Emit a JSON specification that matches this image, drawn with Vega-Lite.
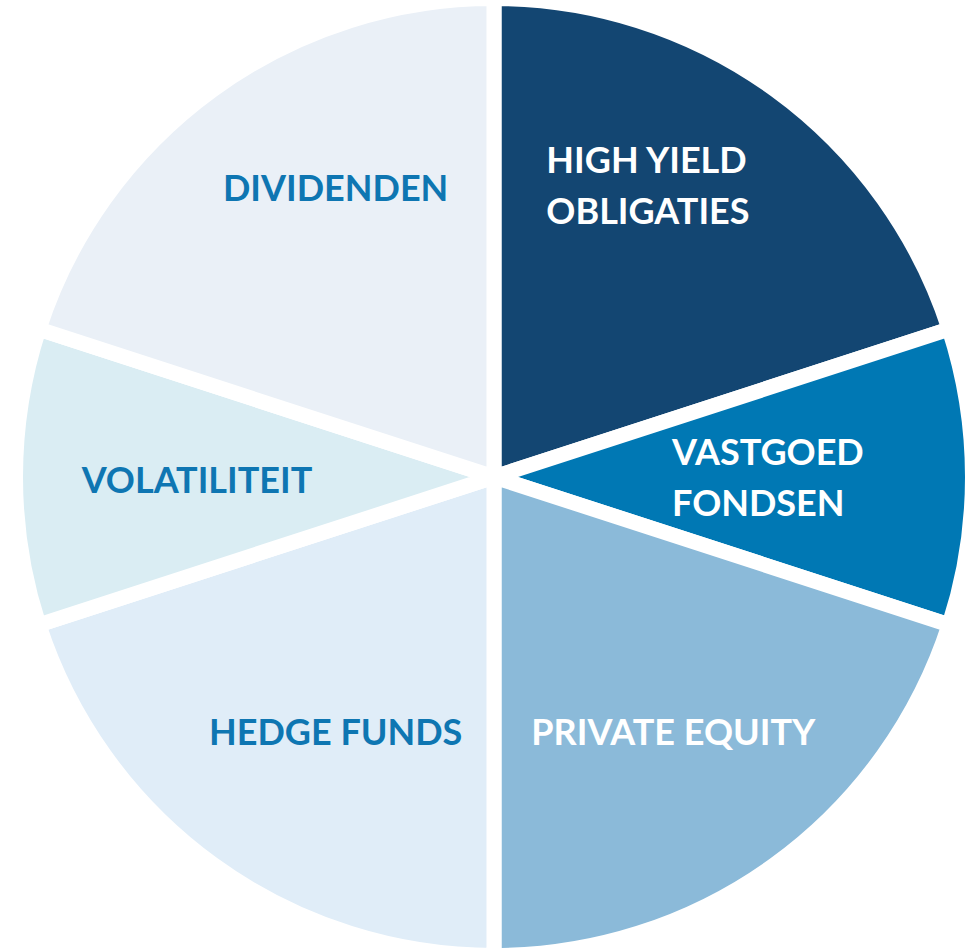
{
  "$schema": "https://vega.github.io/schema/vega-lite/v6.json",
  "width": 950,
  "height": 948,
  "autosize": {"type": "none"},
  "padding": {"left": 19, "top": 3, "right": 0, "bottom": 0},
  "background": "white",
  "config": {"view": {"stroke": null}},
  "data": {
    "values": [
      {"idx": 1, "cat": "HIGH YIELD\nOBLIGATIES", "value": 20},
      {"idx": 2, "cat": "VASTGOED\nFONDSEN", "value": 10},
      {"idx": 3, "cat": "PRIVATE EQUITY", "value": 20},
      {"idx": 4, "cat": "HEDGE FUNDS", "value": 20},
      {"idx": 5, "cat": "VOLATILITEIT", "value": 10},
      {"idx": 6, "cat": "DIVIDENDEN", "value": 20}
    ]
  },
  "encoding": {
    "theta": {"field": "value", "type": "quantitative", "stack": true},
    "order": {"field": "idx", "type": "quantitative"}
  },
  "layer": [
    {
      "mark": {"type": "arc", "outerRadius": 478.5, "stroke": "white", "strokeWidth": 15},
      "encoding": {
        "color": {
          "field": "cat",
          "type": "nominal",
          "legend": null,
          "scale": {
            "domain": ["HIGH YIELD\nOBLIGATIES", "VASTGOED\nFONDSEN", "PRIVATE EQUITY", "HEDGE FUNDS", "VOLATILITEIT", "DIVIDENDEN"],
            "range": ["#134672", "#0078B4", "#8BBAD9", "#E0EDF8", "#DAEDF3", "#EAF0F7"]
          }
        }
      }
    },
    {
      "mark": {"type": "text", "radius": 300, "dx": -124, "dy": -72, "align": "left", "baseline": "middle", "font": "Lato", "fontWeight": "bold", "fontSize": 36, "lineHeight": 51, "lineBreak": "\n", "color": "white"},
      "encoding": {
        "detail": {"field": "cat", "type": "nominal"},
        "text": {"condition": {"test": "datum.idx === 1", "field": "cat"}, "value": ""}
      }
    },
    {
      "mark": {"type": "text", "radius": 300, "dx": -122, "dy": -23, "align": "left", "baseline": "middle", "font": "Lato", "fontWeight": "bold", "fontSize": 36, "lineHeight": 51, "lineBreak": "\n", "color": "white"},
      "encoding": {
        "detail": {"field": "cat", "type": "nominal"},
        "text": {"condition": {"test": "datum.idx === 2", "field": "cat"}, "value": ""}
      }
    },
    {
      "mark": {"type": "text", "radius": 300, "dx": 3, "dy": 14, "align": "center", "baseline": "middle", "font": "Lato", "fontWeight": "bold", "fontSize": 36, "lineHeight": 51, "lineBreak": "\n", "color": "white"},
      "encoding": {
        "detail": {"field": "cat", "type": "nominal"},
        "text": {"condition": {"test": "datum.idx === 3", "field": "cat"}, "value": ""}
      }
    },
    {
      "mark": {"type": "text", "radius": 300, "dx": 18, "dy": 14, "align": "center", "baseline": "middle", "font": "Lato", "fontWeight": "bold", "fontSize": 36, "lineHeight": 51, "lineBreak": "\n", "color": "#0E76B2"},
      "encoding": {
        "detail": {"field": "cat", "type": "nominal"},
        "text": {"condition": {"test": "datum.idx === 4", "field": "cat"}, "value": ""}
      }
    },
    {
      "mark": {"type": "text", "radius": 300, "dx": 3, "dy": 5, "align": "center", "baseline": "middle", "font": "Lato", "fontWeight": "bold", "fontSize": 36, "lineHeight": 51, "lineBreak": "\n", "color": "#0E76B2"},
      "encoding": {
        "detail": {"field": "cat", "type": "nominal"},
        "text": {"condition": {"test": "datum.idx === 5", "field": "cat"}, "value": ""}
      }
    },
    {
      "mark": {"type": "text", "radius": 300, "dx": 18, "dy": -44, "align": "center", "baseline": "middle", "font": "Lato", "fontWeight": "bold", "fontSize": 36, "lineHeight": 51, "lineBreak": "\n", "color": "#0E76B2"},
      "encoding": {
        "detail": {"field": "cat", "type": "nominal"},
        "text": {"condition": {"test": "datum.idx === 6", "field": "cat"}, "value": ""}
      }
    }
  ]
}
